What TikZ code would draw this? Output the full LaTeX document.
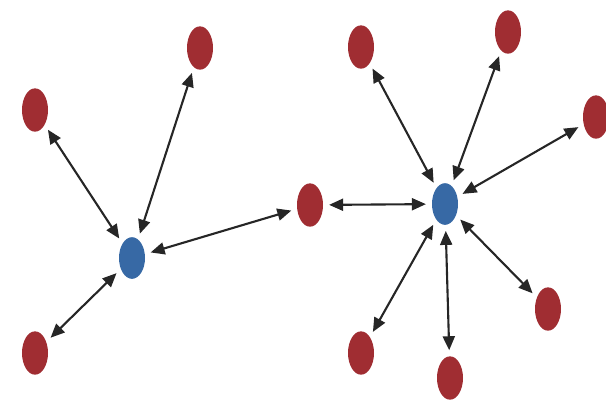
\documentclass[tikz,border=0pt]{standalone}
\usetikzlibrary{shapes.geometric,arrows.meta}
\definecolor{dotred}{RGB}{160,45,50}
\definecolor{dotblue}{RGB}{55,105,165}

\begin{document}
\begin{tikzpicture}[x=0.03cm, y=-0.03cm,
  leaf/.style={ellipse, fill=dotred, minimum width=0.78cm, minimum height=1.3cm, inner sep=0pt},
  hub/.style={ellipse, fill=dotblue, minimum width=0.78cm, minimum height=1.25cm, inner sep=0pt},
  link/.style={{Triangle[length=0.42cm,width=0.36cm]}-{Triangle[length=0.42cm,width=0.36cm]}, line width=1.8pt, black!85, shorten <=5pt, shorten >=5pt}]
\useasboundingbox (0,0) rectangle (606,412);
% left star
\node[hub] (hubL) at (132,258) {};
\node[leaf] (la) at (35,110) {};
\node[leaf] (lb) at (200,48) {};
\node[leaf] (lc) at (35,353) {};
% bridge
\node[leaf] (mid) at (310,205) {};
% right star
\node[hub] (hubR) at (445,204) {};
\node[leaf] (ra) at (361,47) {};
\node[leaf] (rb) at (508,32) {};
\node[leaf] (rc) at (596,117) {};
\node[leaf] (rd) at (548,309) {};
\node[leaf] (re) at (450,378) {};
\node[leaf] (rf) at (361,353) {};
\draw[link] (hubL) -- (la);
\draw[link] (hubL) -- (lb);
\draw[link] (hubL) -- (lc);
\draw[link] (hubL) -- (mid);
\draw[link] (mid) -- (hubR);
\draw[link] (hubR) -- (ra);
\draw[link] (hubR) -- (rb);
\draw[link] (hubR) -- (rc);
\draw[link] (hubR) -- (rd);
\draw[link] (hubR) -- (re);
\draw[link] (hubR) -- (rf);
\end{tikzpicture}
\end{document}
